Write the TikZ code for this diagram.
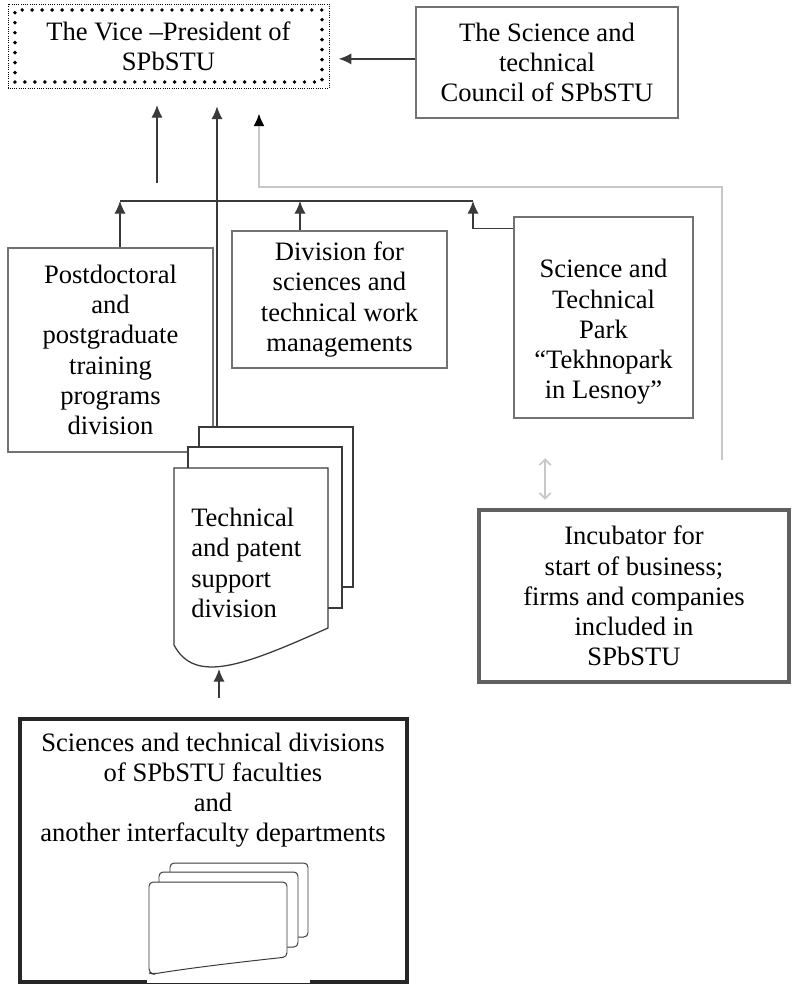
\documentclass[tikz,border=0pt]{standalone}
\usepackage{fontspec}
\setmainfont{Liberation Serif}
\usetikzlibrary{arrows.meta,shapes}

\definecolor{boxgray}{HTML}{727272}
\definecolor{linegray}{HTML}{3A3A3A}
\definecolor{fadegray}{HTML}{C8C8C8}

\begin{document}
\begin{tikzpicture}[x=0.025cm,y=-0.025cm,
    txt/.style={font=\fontsize{18.9}{21.5}\selectfont,align=center,inner sep=0pt},
    unit/.style={rectangle,draw=boxgray,line width=1.2pt,fill=white,txt},
    arr/.style={draw=linegray,line width=0.9pt,-{Latex[length=9pt,width=8pt]}},
    sheet/.style={draw=linegray,line width=0.9pt,fill=white}]
  \useasboundingbox (0,0) rectangle (792,986);

  \node[unit,draw=black,line width=2.8pt,line cap=round,dash pattern=on 0pt off 7.1pt,
        minimum width=7.675cm,minimum height=1.8cm] at (168.5,46) (vp)
    {The Vice –President of\\SPbSTU};
  \draw[densely dotted,line width=0.6pt] ([shift={(-5,-4)}]vp.north west) rectangle ([shift={(5,4)}]vp.south east);
  \node[unit,minimum width=6.55cm,minimum height=2.775cm] at (547,62.5) (council)
    {The Science and\\technical\\Council of SPbSTU};

  \node[unit,minimum width=5.125cm,minimum height=5.1cm] at (110.5,350) (postdoc)
    {Postdoctoral\\and\\postgraduate\\training\\programs\\division};
  \node[unit,minimum width=5.375cm,minimum height=3.425cm] at (339.5,299.5) (division)
    {Division for\\sciences and\\technical work\\managements};
  \node[unit,minimum width=4.475cm,minimum height=5.025cm] at (603.5,317.5) (park) {};
  \node[txt] at (603.5,332) (park-txt)
    {Science and\\Technical\\Park\\“Tekhnopark\\in Lesnoy”};

  \node[unit,draw=gray!75!black,line width=2.6pt,minimum width=7.75cm,minimum height=4.3cm] at (634,596) (incubator)
    {Incubator for\\start of business;\\firms and companies\\included in\\SPbSTU};

  % technical and patent support (stacked sheets)
  \draw[sheet] (199,427) rectangle (353,587);
  \draw[sheet] (188,447) rectangle (342,608);
  \draw[sheet] (174,645) -- (174,468) -- (328,468) -- (328,628)
    .. controls (245,665) and (195,685) .. (174,645) -- cycle;
  \node[txt,align=left,anchor=west] at (191,563) (tech)
    {Technical\\and patent\\support\\division};
  \coordinate (tech-top) at (217,427);
  \coordinate (tech-bot) at (219,669);

  \node[unit,draw=black!85,line width=3.2pt,minimum width=9.675cm,minimum height=6.575cm] at (213.5,850.5) (dept) {};
  \draw[white,line width=3.4pt] (147,982) -- (310,982);
  \draw[black!85,line width=0.8pt] (147,983.5) -- (310,983.5);
  \node[txt] at (213,790) (dept-txt)
    {Sciences and technical divisions\\of SPbSTU faculties\\and\\another interfaculty departments};
  \draw[sheet,line width=0.7pt,rounded corners=3pt] (170,863) rectangle (308,937);
  \draw[sheet,line width=0.7pt,rounded corners=3pt] (159,872) rectangle (298,947);
  \draw[sheet,line width=0.7pt,rounded corners=3pt] (149,973) -- (149,882) -- (287,882) -- (287,957)
    .. controls (240,962) and (190,968) .. (153,974) -- cycle;

  % links
  \coordinate (bus-l) at (120,201);
  \coordinate (bus-m) at (300,201);
  \coordinate (bus-r) at (473,201);
  \draw[draw=linegray,line width=0.9pt] (bus-l) -- (bus-r);
  \draw[arr] (bus-l |- postdoc.north) -- (bus-l);
  \draw[arr] (bus-m |- division.north) -- (bus-m);
  \draw[arr] ([yshift=-0.3cm]park.north west) -| (bus-r);

  \coordinate (pd-up) at (157,183);
  \draw[arr,shorten >=15pt] (pd-up) -- (pd-up |- vp.south);
  \draw[arr,shorten >=16pt] (tech-top) -- (tech-top |- vp.south);
  \draw[arr,shorten <=13.5pt] (tech-bot |- dept.north) -- (tech-bot);
  \draw[arr,shorten >=10.5pt] ([yshift=0.09cm]council.west) -- ([yshift=0.09cm]council.west -| vp.east);

  \coordinate (inc-up) at (722,460);
  \coordinate (fb-corner) at (722,187);
  \coordinate (fb-turn) at (259,187);
  \draw[fadegray,line width=1.6pt,-{Latex[length=9pt,width=8pt,color=black]},shorten >=21pt]
    (inc-up) -- (fb-corner) -- (fb-turn) -- (fb-turn |- vp.south);
  \draw[fadegray,line width=1.2pt,{Straight Barb[length=4pt]}-{Straight Barb[length=4pt]},shorten <=28pt,shorten >=6pt]
    ([xshift=-1.46cm]park.south) -- ([xshift=-1.46cm]park.south |- incubator.north);
\end{tikzpicture}
\end{document}
